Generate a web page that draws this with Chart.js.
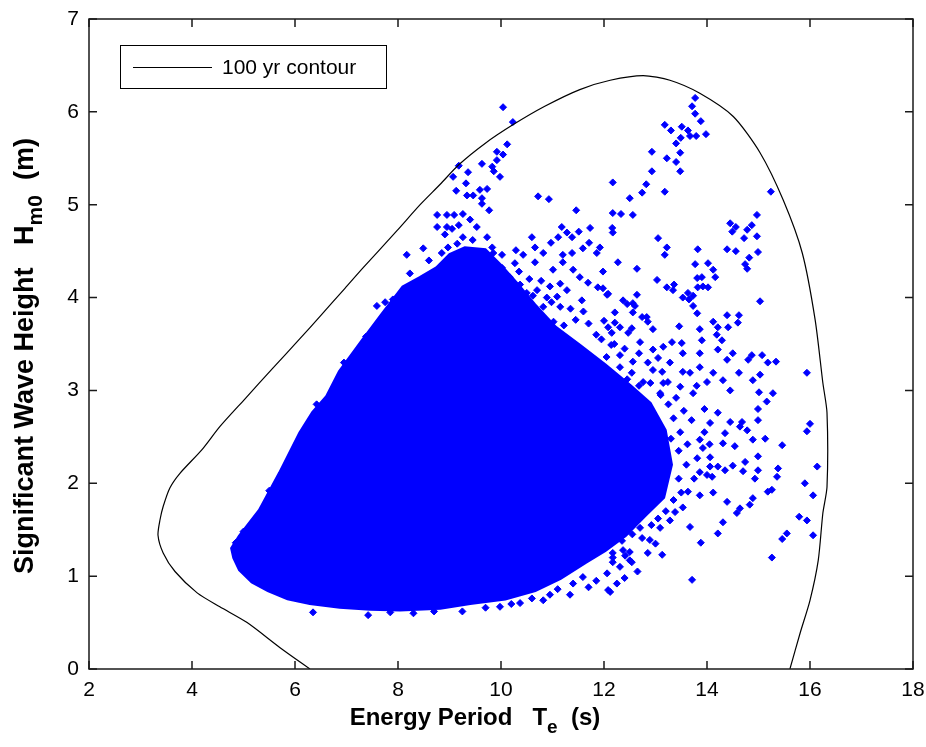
<!DOCTYPE html>
<html>
<head>
<meta charset="utf-8">
<script src="https://cdn.jsdelivr.net/npm/chart.js@4/dist/chart.umd.min.js"></script>
<style>
  html, body { margin: 0; padding: 0; background: #fff; }
  canvas { display: block; }
</style>
</head>
<body>
<canvas id="waveChart" width="926" height="747"></canvas>
<script>
// axis ticks
const teTicks = [2, 4, 6, 8, 10, 12, 14, 16, 18];
const hTicks = [0, 1, 2, 3, 4, 5, 6, 7];

// 100 yr contour, [Te, Hm0]
const contour = [
    [6.29, 0.00], [5.71, 0.23], [5.07, 0.50], [4.54, 0.67], [4.10, 0.82], [3.67, 1.05],
    [3.44, 1.25], [3.34, 1.44], [3.38, 1.61], [3.44, 1.75], [3.57, 1.95], [3.77, 2.11],
    [4.19, 2.36], [4.54, 2.61], [5.03, 2.91], [5.57, 3.24], [6.10, 3.56], [6.49, 3.80],
    [6.97, 4.10], [7.32, 4.32], [7.98, 4.72], [8.43, 5.00], [8.82, 5.22], [9.18, 5.43],
    [9.69, 5.66], [10.23, 5.86], [10.85, 6.06], [11.53, 6.24], [12.12, 6.34], [12.76, 6.39],
    [13.28, 6.34], [13.86, 6.20], [14.51, 5.95], [15.03, 5.56], [15.48, 5.05], [15.85, 4.48],
    [16.10, 3.76], [16.25, 3.08], [16.33, 2.76], [16.33, 1.96], [16.25, 1.68], [16.16, 1.17],
    [16.00, 0.74], [15.81, 0.39], [15.61, 0.00]
];

// outline of the solid core of the scatter, [Te, Hm0]
const core = [
    [8.43, 4.21], [8.76, 4.32], [9.01, 4.46], [9.30, 4.53], [9.69, 4.51], [9.98, 4.35],
    [10.30, 4.15], [10.65, 3.92], [11.05, 3.68], [11.53, 3.48], [12.02, 3.27], [12.50, 3.05],
    [12.89, 2.86], [13.18, 2.57], [13.30, 2.20], [13.15, 1.85], [12.80, 1.66], [12.41, 1.44],
    [12.02, 1.28], [11.63, 1.15], [11.15, 0.98], [10.66, 0.85], [10.08, 0.76], [9.40, 0.71],
    [8.82, 0.66], [8.04, 0.64], [7.46, 0.65], [6.87, 0.67], [6.29, 0.71], [5.86, 0.76],
    [5.48, 0.85], [5.17, 0.94], [4.93, 1.07], [4.82, 1.20], [4.78, 1.30], [4.93, 1.43],
    [5.32, 1.71], [5.71, 2.11], [6.10, 2.54], [6.35, 2.76], [6.62, 2.93], [6.87, 3.20],
    [7.32, 3.54], [7.71, 3.83], [8.10, 4.11], [8.43, 4.21]
];

// sea states outside the solid core, [Te, Hm0]
const seaStates = [
    [13.77, 6.15], [13.71, 6.06], [13.77, 5.98], [13.88, 5.90], [13.18, 5.86], [13.30, 5.80],
    [13.51, 5.84], [13.63, 5.80], [13.67, 5.74], [13.79, 5.74], [13.98, 5.76], [13.40, 5.66],
    [13.49, 5.72], [12.93, 5.57], [13.48, 5.56], [13.22, 5.50], [13.40, 5.46], [12.93, 5.36],
    [13.48, 5.36], [12.82, 5.22], [12.17, 5.24], [12.74, 5.13], [13.18, 5.14], [12.50, 5.07],
    [15.24, 5.14], [12.17, 4.91], [12.33, 4.90], [12.56, 4.89], [14.45, 4.80], [14.56, 4.76],
    [14.97, 4.89], [14.87, 4.78], [14.78, 4.73], [14.49, 4.71], [12.17, 4.70], [14.72, 4.64],
    [14.97, 4.66], [13.05, 4.64], [13.22, 4.54], [13.82, 4.52], [14.39, 4.52], [14.56, 4.50],
    [14.99, 4.49], [13.18, 4.46],
    [10.04, 6.05], [10.23, 5.89], [10.12, 5.65], [9.92, 5.57], [10.04, 5.54], [9.92, 5.48],
    [9.18, 5.42], [9.63, 5.44], [9.83, 5.41], [9.86, 5.36], [9.36, 5.35], [9.07, 5.30],
    [9.98, 5.30], [9.32, 5.23], [9.13, 5.15], [9.59, 5.16], [9.73, 5.17], [9.34, 5.10],
    [9.46, 5.10], [9.63, 5.07], [9.63, 5.01], [9.77, 4.94], [8.76, 4.89], [8.95, 4.89],
    [9.09, 4.89], [9.26, 4.90], [10.72, 5.09], [10.93, 5.06], [11.46, 4.94], [8.76, 4.76],
    [8.95, 4.76], [9.18, 4.78], [9.40, 4.84], [8.91, 4.68], [9.05, 4.74], [9.26, 4.65],
    [9.53, 4.76], [9.73, 4.65], [10.60, 4.65], [11.18, 4.76], [11.28, 4.70], [11.38, 4.65],
    [11.51, 4.71], [11.73, 4.75], [12.16, 4.75], [8.49, 4.53], [8.17, 4.46], [8.85, 4.48],
    [8.97, 4.54], [9.83, 4.54], [10.02, 4.46], [10.29, 4.51], [10.43, 4.46], [10.66, 4.54],
    [10.82, 4.48], [10.97, 4.59], [11.11, 4.65], [11.20, 4.46], [11.38, 4.48], [11.59, 4.53],
    [11.71, 4.59], [11.92, 4.54], [11.86, 4.48], [12.27, 4.38], [12.64, 4.31], [10.66, 4.38],
    [10.27, 4.37], [10.02, 4.32], [11.01, 4.30], [11.20, 4.38], [11.40, 4.30], [11.53, 4.22],
    [11.69, 4.16], [11.88, 4.11], [12.08, 4.04], [12.37, 3.97], [12.56, 3.94], [8.23, 4.26],
    [7.90, 3.98], [8.82, 4.30], [10.17, 4.22], [10.37, 4.14], [10.50, 4.05], [10.70, 4.08],
    [10.89, 4.00], [11.09, 4.01], [11.28, 4.08], [11.57, 3.97], [11.15, 3.90], [10.82, 3.90],
    [10.43, 3.94],
    [14.82, 4.43], [14.74, 4.36], [14.78, 4.31], [11.98, 4.28], [13.77, 4.36], [14.02, 4.37],
    [14.12, 4.30], [14.16, 4.22], [13.03, 4.19], [13.81, 4.21], [13.90, 4.22], [13.22, 4.11],
    [13.36, 4.14], [13.34, 4.08], [13.82, 4.11], [13.92, 4.12], [14.02, 4.11], [13.63, 4.05],
    [13.53, 4.00], [13.65, 3.98], [13.73, 4.02], [13.73, 3.91], [13.81, 3.83], [15.03, 3.96],
    [11.98, 4.10], [12.06, 4.03], [12.64, 4.03], [12.45, 3.93], [12.60, 3.91], [12.21, 3.84],
    [12.56, 3.84], [12.74, 3.79], [12.83, 3.79], [12.85, 3.74], [12.21, 3.73], [12.08, 3.68],
    [12.31, 3.68], [12.54, 3.67], [12.47, 3.62], [12.95, 3.66], [13.46, 3.69], [13.86, 3.66],
    [14.12, 3.74], [14.21, 3.68], [14.39, 3.81], [14.62, 3.81], [14.60, 3.73], [14.41, 3.68],
    [14.19, 3.60], [14.29, 3.54], [13.90, 3.54], [13.51, 3.51], [13.32, 3.52], [13.15, 3.47],
    [12.95, 3.44], [12.68, 3.40], [12.31, 3.38], [12.14, 3.49], [13.53, 3.40], [13.86, 3.40],
    [14.21, 3.44], [14.50, 3.40], [14.39, 3.33], [14.87, 3.38], [14.80, 3.33], [15.07, 3.38],
    [15.18, 3.30], [15.34, 3.31], [15.94, 3.19], [14.62, 3.19], [14.89, 3.11], [15.01, 2.98],
    [15.28, 2.97], [14.12, 3.19], [13.86, 3.25], [13.28, 3.30], [12.56, 3.31], [12.54, 3.19],
    [12.95, 3.22], [13.13, 3.20], [12.76, 3.09], [13.24, 3.09], [13.53, 3.20], [13.67, 3.19],
    [14.00, 3.09], [14.31, 3.11], [14.45, 3.00], [13.48, 3.04], [13.73, 2.97], [13.09, 2.97],
    [12.31, 3.25], [15.03, 3.17],
    [15.16, 2.88], [14.99, 2.80], [14.99, 2.68], [14.21, 2.76], [14.06, 2.65], [14.45, 2.66],
    [14.68, 2.66], [14.78, 2.57], [14.64, 2.61], [14.35, 2.54], [14.31, 2.43], [14.54, 2.40],
    [14.89, 2.47], [15.13, 2.48], [15.46, 2.41], [16.00, 2.64], [15.94, 2.56], [16.14, 2.18],
    [15.90, 2.00], [16.06, 1.87], [14.99, 2.29], [14.74, 2.23], [14.70, 2.13], [14.99, 2.14],
    [14.93, 2.05], [14.50, 2.19], [14.35, 2.14], [14.21, 2.18], [14.06, 2.18], [14.00, 2.09],
    [14.10, 2.07], [13.86, 2.12], [13.81, 2.27], [14.06, 2.28], [13.92, 2.38], [13.86, 2.47],
    [15.38, 2.16], [15.36, 2.07], [15.18, 1.91], [15.26, 1.93], [14.89, 1.84], [14.83, 1.77],
    [14.64, 1.73], [14.58, 1.68], [14.39, 1.80], [14.12, 1.90], [13.86, 1.87], [13.63, 1.91],
    [13.53, 1.74], [13.38, 1.69], [13.28, 1.60], [13.67, 1.53], [14.31, 1.58], [14.21, 1.46],
    [13.88, 1.36], [13.09, 1.52], [12.89, 1.39], [13.13, 1.23], [12.74, 1.41], [12.50, 1.26],
    [12.41, 1.22], [12.54, 1.15], [12.31, 1.10], [12.17, 1.15], [12.17, 1.25], [12.06, 1.03],
    [12.08, 0.85], [13.71, 0.96], [15.26, 1.20], [15.46, 1.40], [15.55, 1.46], [15.79, 1.64],
    [15.94, 1.60], [16.06, 1.44],
    [7.59, 3.91], [6.35, 0.61], [7.42, 0.58], [9.98, 0.67], [10.37, 0.71], [10.82, 0.74],
    [11.34, 0.80], [12.12, 0.83], [11.59, 0.99], [12.50, 1.17], [12.37, 1.28], [12.17, 1.20],
    // speckled band round the core
    [10.35, 4.28], [10.55, 4.20], [10.78, 4.18], [10.95, 4.12], [11.15, 4.15], [10.62, 4.02],
    [10.98, 3.95], [11.35, 3.88], [11.45, 3.76], [11.22, 3.70], [11.70, 3.72], [11.85, 3.60],
    [10.80, 3.78], [11.02, 3.74], [11.95, 3.55], [12.20, 3.50], [12.40, 3.45], [12.05, 3.36],
    [12.70, 3.52], [12.85, 3.30], [13.05, 3.35], [12.45, 3.12], [12.68, 3.05], [12.90, 3.08],
    [13.10, 2.95], [13.25, 2.85], [13.40, 2.92], [13.55, 2.78], [13.35, 2.70], [13.70, 2.68],
    [13.48, 2.55], [13.62, 2.42], [13.45, 2.35], [13.60, 2.20], [13.75, 2.05], [13.45, 2.05],
    [13.50, 1.90], [13.35, 1.82], [13.20, 1.70], [13.05, 1.62], [12.92, 1.55], [12.70, 1.52],
    [12.55, 1.45], [12.35, 1.38], [12.85, 1.25], [13.00, 1.35], [12.65, 1.05], [12.40, 0.98],
    [12.25, 0.92], [11.85, 0.95], [11.70, 0.88], [11.40, 0.92], [11.10, 0.86], [10.95, 0.80],
    [10.60, 0.76], [10.20, 0.70], [9.70, 0.66], [9.25, 0.62], [8.70, 0.62], [8.30, 0.60],
    [7.85, 0.61], [13.95, 2.55], [14.05, 2.42], [13.30, 2.48], [13.15, 3.08], [13.95, 2.80],
    [13.80, 3.05], [12.15, 3.62], [12.00, 3.75], [11.60, 3.85],
    [8.60, 4.40], [9.15, 4.58], [9.45, 4.62], [9.85, 4.48], [7.75, 3.95], [7.38, 3.58],
    [6.95, 3.30], [6.42, 2.85], [5.50, 1.92], [5.00, 1.48], [4.85, 1.36]
];

const FONT = '"Liberation Sans", Arial, sans-serif';
const BLUE = '#0000ff';

const toXY = arr => arr.map(p => ({ x: p[0], y: p[1] }));

// draw text pieces, some of them as subscript
function drawRich(ctx, parts, cx, baseY, size) {
    const subSize = Math.round(size * 0.78);
    const fontOf = p => 'bold ' + (p.sub ? subSize : size) + 'px ' + FONT;
    const widths = parts.map(p => {
        ctx.font = fontOf(p);
        return ctx.measureText(p.t).width;
    });
    let x = cx - widths.reduce((a, b) => a + b, 0) / 2;
    parts.forEach((p, i) => {
        ctx.font = fontOf(p);
        ctx.fillText(p.t, x, p.sub ? baseY + size * 0.33 : baseY);
        x += widths[i];
    });
}

// box, inward ticks on all sides, titles and legend
const matlabFrame = {
    id: 'matlabFrame',
    afterDraw(chart) {
        const { ctx, chartArea: a, scales } = chart;
        ctx.save();
        ctx.strokeStyle = '#1a1a1a';
        ctx.lineWidth = 1.5;
        ctx.strokeRect(a.left, a.top, a.right - a.left, a.bottom - a.top);
        ctx.beginPath();
        scales.x.ticks.forEach(t => {
            const px = scales.x.getPixelForValue(t.value);
            ctx.moveTo(px, a.bottom); ctx.lineTo(px, a.bottom - 8);
            ctx.moveTo(px, a.top); ctx.lineTo(px, a.top + 8);
        });
        scales.y.ticks.forEach(t => {
            const py = scales.y.getPixelForValue(t.value);
            ctx.moveTo(a.left, py); ctx.lineTo(a.left + 8, py);
            ctx.moveTo(a.right, py); ctx.lineTo(a.right - 8, py);
        });
        ctx.stroke();

        // axis titles
        ctx.fillStyle = '#000';
        ctx.textBaseline = 'alphabetic';
        ctx.textAlign = 'left';
        drawRich(ctx, [{ t: 'Energy Period   T' }, { t: 'e', sub: true }, { t: '  (s)' }], 475, 725, 24);
        ctx.save();
        ctx.translate(33, 356);
        ctx.rotate(-Math.PI / 2);
        drawRich(ctx, [{ t: 'Significant Wave Height   H' }, { t: 'm0', sub: true }, { t: '  (m)' }], 0, 0, 27);
        ctx.restore();

        // legend
        const label = chart.data.datasets[0].label;
        ctx.fillStyle = '#fff';
        ctx.fillRect(120, 45, 266, 43);
        ctx.lineWidth = 1;
        ctx.strokeStyle = '#000';
        ctx.strokeRect(120.5, 45.5, 266, 43);
        ctx.beginPath();
        ctx.moveTo(133, 67.5); ctx.lineTo(212, 67.5);
        ctx.stroke();
        ctx.fillStyle = '#000';
        ctx.font = '21px ' + FONT;
        ctx.textBaseline = 'middle';
        ctx.fillText(label, 222, 68);
        ctx.restore();
    }
};

new Chart(document.getElementById('waveChart'), {
    type: 'line',
    data: {
        datasets: [
            {
                label: '100 yr contour',
                data: toXY(contour),
                borderColor: '#000',
                borderWidth: 1.2,
                pointRadius: 0,
                tension: 0.25,
                fill: false
            },
            {
                label: 'sea states',
                data: toXY(seaStates),
                showLine: false,
                pointStyle: 'rectRot',
                pointRadius: 3.5,
                pointBorderWidth: 1,
                pointBackgroundColor: BLUE,
                pointBorderColor: BLUE
            },
            {
                label: 'core',
                data: toXY(core),
                borderColor: BLUE,
                backgroundColor: BLUE,
                borderWidth: 4,
                pointRadius: 0,
                tension: 0,
                fill: 'shape'
            }
        ]
    },
    options: {
        responsive: false,
        animation: false,
        devicePixelRatio: 1,
        layout: { padding: { left: 0, right: 13, top: 19, bottom: 0 } },
        plugins: {
            legend: { display: false },
            tooltip: { enabled: false }
        },
        scales: {
            x: {
                type: 'linear',
                min: 2,
                max: 18,
                afterBuildTicks: s => { s.ticks = teTicks.map(v => ({ value: v })); },
                afterFit: s => { s.height = 78; s.paddingLeft = 0; s.paddingRight = 0; },
                grid: { display: false, drawTicks: false },
                border: { display: false },
                ticks: { color: '#000', padding: 9, font: { family: FONT, size: 21 } }
            },
            y: {
                type: 'linear',
                min: 0,
                max: 7,
                afterBuildTicks: s => { s.ticks = hTicks.map(v => ({ value: v })); },
                afterFit: s => { s.width = 89; s.paddingTop = 0; s.paddingBottom = 0; },
                grid: { display: false, drawTicks: false },
                border: { display: false },
                ticks: { color: '#000', padding: 10, font: { family: FONT, size: 21 } }
            }
        }
    },
    plugins: [matlabFrame]
});
</script>
</body>
</html>
